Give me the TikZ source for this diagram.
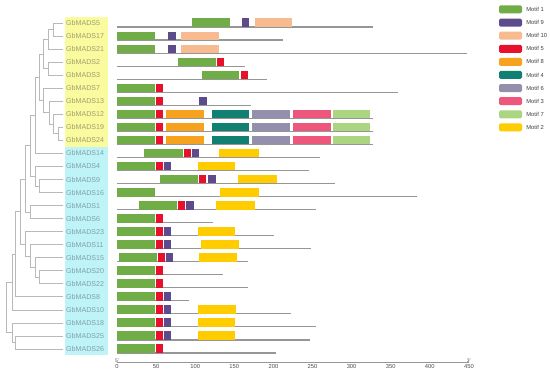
\documentclass[tikz,border=0pt]{standalone}
\usepackage{fontspec}
\setmainfont{Liberation Sans}
\usetikzlibrary{positioning,calc}

\definecolor{m1}{RGB}{112,173,71}
\definecolor{m9}{RGB}{94,75,139}
\definecolor{m10}{RGB}{248,186,143}
\definecolor{m5}{RGB}{232,17,45}
\definecolor{m8}{RGB}{247,162,30}
\definecolor{m4}{RGB}{17,128,114}
\definecolor{m6}{RGB}{148,143,172}
\definecolor{m3}{RGB}{238,87,124}
\definecolor{m7}{RGB}{172,213,130}
\definecolor{m2}{RGB}{255,204,0}
\definecolor{ylw}{RGB}{250,250,158}
\definecolor{cyn}{RGB}{190,243,248}
\definecolor{lbly}{RGB}{160,158,112}
\definecolor{lblc}{RGB}{128,160,170}
\definecolor{treegray}{RGB}{185,185,185}
\definecolor{seqgray}{RGB}{150,150,150}

\tikzset{
  branch/.style={draw=treegray, line width=0.7pt},
  seqline/.style={draw=seqgray, line width=1.1pt},
  axisline/.style={draw=seqgray, line width=0.8pt},
  lbl/.style={anchor=west, inner sep=0pt, font=\fontsize{7.1}{8}\selectfont},
  legbox/.style={minimum width=23pt, minimum height=8pt, inner sep=0pt, rounded corners=1.5pt},
  legtxt/.style={inner sep=0pt, text=black!75, font=\fontsize{5.8}{7}\selectfont},
  ticklbl/.style={inner sep=0pt, text=black!70, font=\fontsize{5.8}{7}\selectfont}
}

% un motif : ligne, debut, fin, couleur
\newcommand{\mtf}[4]{%
  \fill[#4] ({117+0.782*#2},{18.5+(#1-1)*13.04}) rectangle ({117+0.782*#3},{27+(#1-1)*13.04});}
% un noeud de l'arbre : nom, x, fils 1, fils 2
\newcommand{\clade}[4]{%
  \path let \p1=(#3), \p2=(#4) in coordinate (#1) at (#2pt,{(\y1+\y2)/2});
  \draw[branch] (#1) |- (#3);
  \draw[branch] (#1) |- (#4);}

\begin{document}
\begin{tikzpicture}[x=1pt, y=-1pt]
\useasboundingbox (0,0) rectangle (550,374);
\fill[white] (0,0) rectangle (550,374);

% Groupes
\fill[ylw] (65,17) rectangle (108,147);
\fill[cyn] (65,147) rectangle (108,355);

% Noms et sequences
\foreach \nm/\len [count=\i] in {5/328,17/212,21/448,2/164,3/192,7/359,13/171,12/327,19/327,24/327,
  14/259,4/246,9/279,16/383,1/255,6/123,23/201,11/248,15/168,20/136,22/167,8/92,10/223,18/254,25/247,26/203} {
  \pgfmathsetmacro\ry{23+(\i-1)*13.04}
  \ifnum\i<11 \def\lc{lbly}\else\def\lc{lblc}\fi
  \coordinate (t\nm) at (63,\ry);
  \node[lbl, text=\lc] (g\nm) at (66,\ry) {GbMADS\nm};
  \draw[seqline] (117,{\ry+4}) -- ({117+0.782*\len},{\ry+4});
}

% Arbre
\clade{ca}{53}{t5}{t17}
\clade{cb}{48}{ca}{t21}
\clade{cc}{48}{t2}{t3}
\clade{cd}{43}{cb}{cc}
\clade{ce}{58}{t19}{t24}
\clade{cf}{53}{t12}{ce}
\clade{cg}{49}{t13}{cf}
\clade{ch}{43}{t7}{cg}
\clade{ci}{39}{cd}{ch}
\clade{cj}{35}{ci}{t14}
\clade{ck}{39}{t9}{t16}
\clade{cl}{35}{t4}{ck}
\clade{ct}{30}{cj}{cl}
\clade{cm}{30}{t1}{t6}
\clade{cu}{25}{ct}{cm}
\clade{co}{39}{t20}{t22}
\clade{cp}{35}{t15}{co}
\clade{cq}{30}{t11}{cp}
\clade{cr}{25}{t23}{cq}
\clade{cs}{20}{cu}{cr}
\clade{cv}{15}{cs}{t8}
\clade{cw}{12}{cv}{t10}
\clade{cx}{15}{t25}{t26}
\clade{cy}{12}{t18}{cx}
\clade{root}{6}{cw}{cy}

% Motifs communs
\foreach \r in {2,3,6,7,8,9,10,12,14,16,17,18,20,21,22,23,24,25,26} {\mtf{\r}{0}{49}{m1}}
\foreach \r in {6,7,8,9,10,12,16,17,18,20,21,22,23,24,25,26} {\mtf{\r}{50}{59}{m5}}
\foreach \r in {12,17,18,22,23,24,25} {\mtf{\r}{60}{69}{m9}}
\foreach \r in {2,3} {\mtf{\r}{65}{76}{m9} \mtf{\r}{82}{131}{m10}}
\foreach \r in {8,9,10} {
  \mtf{\r}{63}{111}{m8} \mtf{\r}{121}{169}{m4} \mtf{\r}{172}{221}{m6}
  \mtf{\r}{225}{274}{m3} \mtf{\r}{276}{324}{m7}}
\foreach \r in {12,17,24,25} {\mtf{\r}{103}{151}{m2}}

% Motifs particuliers
\mtf{1}{96}{145}{m1} \mtf{1}{160}{169}{m9} \mtf{1}{176}{224}{m10}
\mtf{4}{78}{127}{m1} \mtf{4}{128}{137}{m5}
\mtf{5}{109}{156}{m1} \mtf{5}{159}{168}{m5}
\mtf{7}{105}{115}{m9}
\mtf{11}{35}{84}{m1} \mtf{11}{86}{94}{m5} \mtf{11}{96}{105}{m9} \mtf{11}{131}{181}{m2}
\mtf{13}{55}{104}{m1} \mtf{13}{105}{114}{m5} \mtf{13}{117}{127}{m9} \mtf{13}{155}{205}{m2}
\mtf{14}{132}{182}{m2}
\mtf{15}{28}{77}{m1} \mtf{15}{78}{87}{m5} \mtf{15}{88}{98}{m9} \mtf{15}{127}{177}{m2}
\mtf{18}{108}{156}{m2}
\mtf{19}{2}{51}{m1} \mtf{19}{53}{61}{m5} \mtf{19}{63}{72}{m9} \mtf{19}{105}{153}{m2}
\mtf{23}{104}{152}{m2}

% Legende
\foreach \c/\k [count=\j] in {m1/1,m9/9,m10/10,m5/5,m8/8,m4/4,m6/6,m3/3,m7/7,m2/2} {
  \node[legbox, fill=\c] (key\k) at (510.5,{9.5+(\j-1)*13.1}) {};
  \node[legtxt, right=4pt of key\k] (txt\k) {Motif \k};
}

% Echelle
\coordinate (ax0) at (117,362);
\coordinate (ax450) at (469,362);
\draw[axisline] (ax0) -- (ax450);
\foreach \v in {0,50,...,450} {\node[ticklbl] (v\v) at ({117+0.782*\v},367) {\v};}
\node[ticklbl, font=\fontsize{5}{6}\selectfont, above=1.5pt of v0] (end5) {5'};
\node[ticklbl, font=\fontsize{5}{6}\selectfont, above=1.5pt of v450] (end3) {3'};

\end{tikzpicture}
\end{document}
